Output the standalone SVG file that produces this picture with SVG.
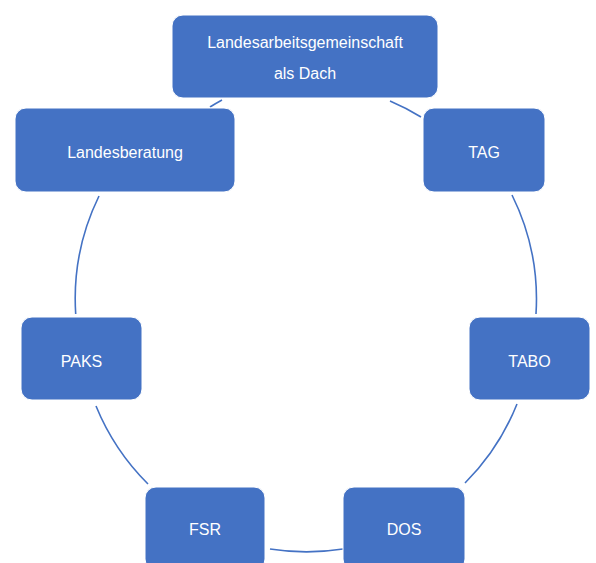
<svg xmlns="http://www.w3.org/2000/svg" width="596" height="563" viewBox="0 0 596 563">
<style>
.box{fill:#4472C4;stroke:#ffffff;stroke-width:1}
.lbl{font-family:"Liberation Sans",Arial,sans-serif;font-size:16px;fill:#ffffff;text-anchor:middle}
.arc{fill:none;stroke:#4472C4;stroke-width:1.6}
</style>
<rect width="596" height="563" fill="#ffffff"/>
<g id="connectors">
<path class="arc" d="M 390 101 A 235 235 0 0 1 421 117"/>
<path class="arc" d="M 512 195 A 235 235 0 0 1 536 314"/>
<path class="arc" d="M 517 404 A 235 235 0 0 1 465 483"/>
<path class="arc" d="M 343 549 A 235 235 0 0 1 270 549"/>
<path class="arc" d="M 148 484 A 235 235 0 0 1 96 406"/>
<path class="arc" d="M 75.7 314 A 235 235 0 0 1 99 196"/>
<path class="arc" d="M 210 107 A 235 235 0 0 1 222 100"/>
</g>
<g id="node-dach">
<rect class="box" x="172" y="15" width="266" height="83" rx="11"/>
<text class="lbl" x="305" y="48">Landesarbeitsgemeinschaft</text>
<text class="lbl" x="305" y="79">als Dach</text>
</g>
<g id="node-tag">
<rect class="box" x="423" y="108" width="122" height="84" rx="11"/>
<text class="lbl" x="484" y="157.5">TAG</text>
</g>
<g id="node-tabo">
<rect class="box" x="469" y="317" width="121" height="83" rx="11"/>
<text class="lbl" x="529.5" y="366.5">TABO</text>
</g>
<g id="node-dos">
<rect class="box" x="343" y="487" width="122" height="83" rx="11"/>
<text class="lbl" x="404" y="535">DOS</text>
</g>
<g id="node-fsr">
<rect class="box" x="145" y="487" width="120" height="83" rx="11"/>
<text class="lbl" x="205" y="535">FSR</text>
</g>
<g id="node-paks">
<rect class="box" x="21" y="317" width="121" height="83" rx="11"/>
<text class="lbl" x="81.5" y="366.5">PAKS</text>
</g>
<g id="node-landesberatung">
<rect class="box" x="15" y="108" width="220" height="84" rx="11"/>
<text class="lbl" x="125" y="157.5">Landesberatung</text>
</g>
</svg>
